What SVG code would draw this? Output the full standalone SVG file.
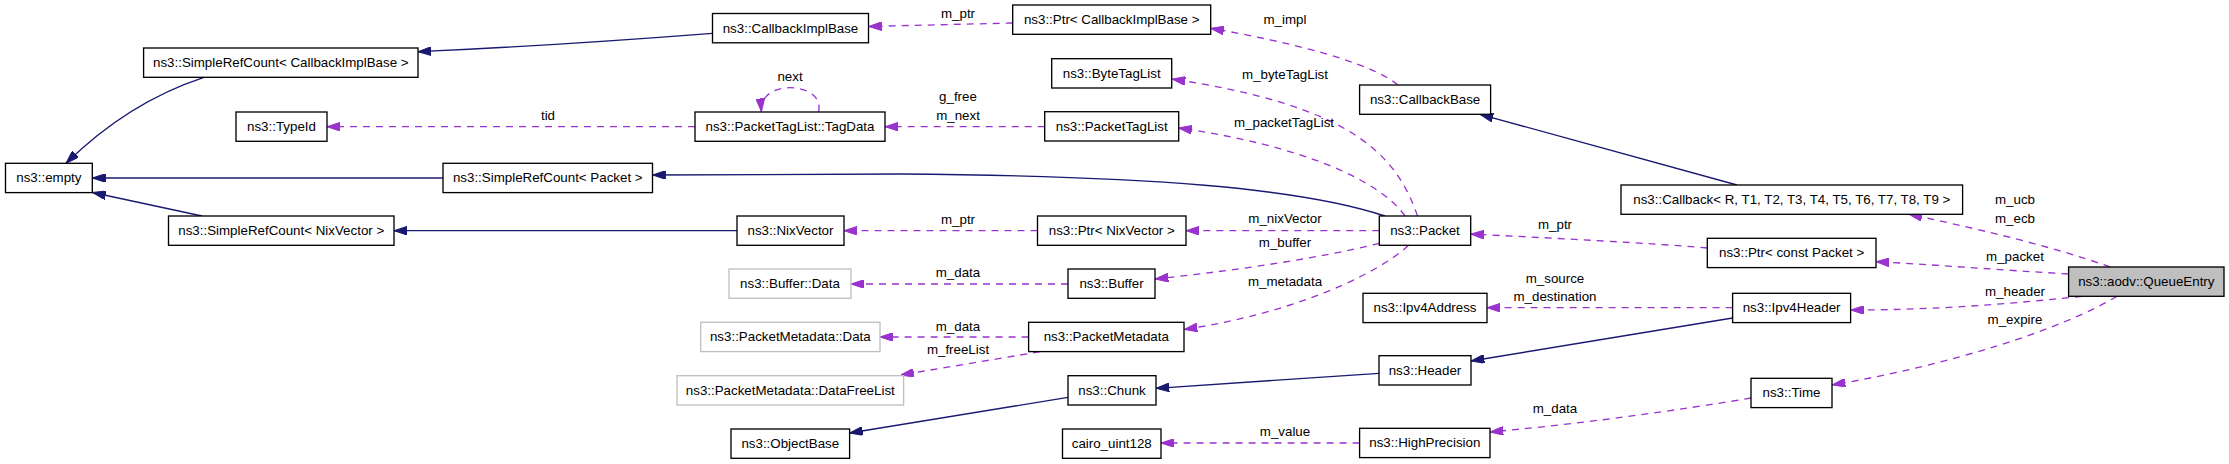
<svg xmlns="http://www.w3.org/2000/svg" width="2229" height="464" viewBox="0 0 2229 464">
<style>
.n rect{fill:#fff;stroke:#000;stroke-width:1.33}
.n.g rect{stroke:#bfbfbf}
.n.q rect{fill:#bfbfbf}
text{font-family:"Liberation Sans",Arial,Helvetica,sans-serif;font-size:13.33px;fill:#000}
.n text{text-anchor:middle}
.lb{text-anchor:middle}
.inh{fill:none;stroke:#191970;stroke-width:1.33;marker-end:url(#an)}
.use{fill:none;stroke:#9a32cd;stroke-width:1.33;stroke-dasharray:7,6;marker-end:url(#ap)}
</style>
<defs>
<marker id="an" markerUnits="userSpaceOnUse" viewBox="0 0 13.3 8.8" refX="13.3" refY="4.4" markerWidth="13.3" markerHeight="8.8" orient="auto">
<path d="M0,0 L13.3,4.4 L0,8.8 z" fill="#191970" stroke="#191970" stroke-width="1" stroke-dasharray="none"/>
</marker>
<marker id="ap" markerUnits="userSpaceOnUse" viewBox="0 0 13.3 8.8" refX="13.3" refY="4.4" markerWidth="13.3" markerHeight="8.8" orient="auto">
<path d="M0,0 L13.3,4.4 L0,8.8 z" fill="#9a32cd" stroke="#9a32cd" stroke-width="1" stroke-dasharray="none"/>
</marker>
</defs>
<rect width="2229" height="464" fill="#fff"/>

<g id="connectors">
<path class="inh" d="M204,77.3 C150,95 105,125 66,163.3"/>
<path class="inh" d="M443,178 L92.3,178"/>
<path class="inh" d="M202,216 L92.5,192.5"/>
<path class="inh" d="M712.5,33.3 C600,42 500,48 418,51.7"/>
<path class="inh" d="M1385,216 C1300,188 1150,176 900,174 L652.5,175"/>
<path class="inh" d="M737,230.7 L394,230.7"/>
<path class="inh" d="M1737,185 L1480,114.3"/>
<path class="inh" d="M1732.6,318 L1471,361"/>
<path class="inh" d="M1379,373.3 L1156,388.3"/>
<path class="inh" d="M1068,397.3 L849.6,433"/>

<path class="use" d="M1012.7,23 L868.5,26.5"/>
<path class="use" d="M1398,85 C1370,62 1290,42 1210.7,28.3"/>
<path class="use" d="M1417.5,216 C1395,150 1345,105 1172,79"/>
<path class="use" d="M1405,216 C1380,180 1300,145 1178.7,128"/>
<path class="use" d="M1044.7,126.7 L885,126.7"/>
<path class="use" d="M818.6,111.7 C822,95 805,87.7 790,87.7 C775,87.7 760,95 761.4,111.7"/>
<path class="use" d="M695,126.7 L327,126.7"/>
<path class="use" d="M1037.5,230.7 L844,230.7"/>
<path class="use" d="M1379.3,230.7 L1186,230.7"/>
<path class="use" d="M1379.3,243.3 C1320,258 1240,270 1155,279"/>
<path class="use" d="M1408.6,245.3 C1380,272 1300,312 1184,329.5"/>
<path class="use" d="M1068,284 L851,284"/>
<path class="use" d="M1028.6,337 L880,337"/>
<path class="use" d="M1040,351.7 L900.7,375"/>
<path class="use" d="M1707.3,248 C1650,243 1550,238 1470.7,234"/>
<path class="use" d="M1732.6,307.7 L1487,307.7"/>
<path class="use" d="M1751,398 C1680,410 1580,424 1490,432"/>
<path class="use" d="M1359.6,443 L1161,443"/>
<path class="use" d="M2110,267 C2050,245 1960,225 1909,214.3"/>
<path class="use" d="M2068.6,274 C2000,270 1940,265 1876,261.7"/>
<path class="use" d="M2082,296.3 C2000,305 1930,310 1850.7,310"/>
<path class="use" d="M2117,296.3 C2060,330 1950,365 1832,385"/>

<text class="lb" x="958" y="18">m_ptr</text>
<text class="lb" x="1285" y="24">m_impl</text>
<text class="lb" x="790" y="81">next</text>
<text class="lb" x="1285" y="79">m_byteTagList</text>
<text class="lb" x="958" y="100.5">g_free</text>
<text class="lb" x="958" y="119.5">m_next</text>
<text class="lb" x="548" y="120">tid</text>
<text class="lb" x="1284" y="127">m_packetTagList</text>
<text class="lb" x="2015" y="204">m_ucb</text>
<text class="lb" x="2015" y="223">m_ecb</text>
<text class="lb" x="958" y="224">m_ptr</text>
<text class="lb" x="1285" y="223">m_nixVector</text>
<text class="lb" x="1555" y="229">m_ptr</text>
<text class="lb" x="1285" y="247">m_buffer</text>
<text class="lb" x="2015" y="261">m_packet</text>
<text class="lb" x="958" y="277">m_data</text>
<text class="lb" x="1555" y="283">m_source</text>
<text class="lb" x="1555" y="301">m_destination</text>
<text class="lb" x="1285" y="286">m_metadata</text>
<text class="lb" x="2015" y="296">m_header</text>
<text class="lb" x="2015" y="324">m_expire</text>
<text class="lb" x="958" y="331">m_data</text>
<text class="lb" x="958" y="354">m_freeList</text>
<text class="lb" x="1555" y="413">m_data</text>
<text class="lb" x="1285" y="436">m_value</text>
</g>

<g id="n_src_cib" class="n"><rect x="143.6" y="48" width="274.4" height="29.3"/><text x="280.8" y="67">ns3::SimpleRefCount&lt; CallbackImplBase &gt;</text></g>
<g id="n_typeid" class="n"><rect x="236" y="112" width="91" height="29.3"/><text x="281.5" y="131">ns3::TypeId</text></g>
<g id="n_empty" class="n"><rect x="5.5" y="163.3" width="86.8" height="29.3"/><text x="48.9" y="182.3">ns3::empty</text></g>
<g id="n_src_packet" class="n"><rect x="443" y="163.3" width="209.5" height="29.3"/><text x="547.75" y="182.3">ns3::SimpleRefCount&lt; Packet &gt;</text></g>
<g id="n_src_nix" class="n"><rect x="168.5" y="216" width="225.5" height="29.3"/><text x="281.25" y="235">ns3::SimpleRefCount&lt; NixVector &gt;</text></g>
<g id="n_cib" class="n"><rect x="712.5" y="13.5" width="156" height="29.3"/><text x="790.5" y="32.5">ns3::CallbackImplBase</text></g>
<g id="n_tagdata" class="n"><rect x="695" y="112" width="190" height="29.3"/><text x="790" y="131">ns3::PacketTagList::TagData</text></g>
<g id="n_nixvector" class="n"><rect x="737" y="216" width="107" height="29.3"/><text x="790.5" y="235">ns3::NixVector</text></g>
<g id="n_ptr_cib" class="n"><rect x="1012.7" y="5" width="198" height="29.3"/><text x="1111.7" y="24">ns3::Ptr&lt; CallbackImplBase &gt;</text></g>
<g id="n_bytetaglist" class="n"><rect x="1051.7" y="58.7" width="120" height="29.3"/><text x="1111.7" y="77.7">ns3::ByteTagList</text></g>
<g id="n_packettaglist" class="n"><rect x="1044.7" y="111.7" width="134" height="29.3"/><text x="1111.7" y="130.7">ns3::PacketTagList</text></g>
<g id="n_ptr_nix" class="n"><rect x="1037.5" y="216" width="148.5" height="29.3"/><text x="1111.75" y="235">ns3::Ptr&lt; NixVector &gt;</text></g>
<g id="n_callbackbase" class="n"><rect x="1359.6" y="85" width="131" height="29.3"/><text x="1425.1" y="104">ns3::CallbackBase</text></g>
<g id="n_packet" class="n"><rect x="1379.3" y="216" width="91.4" height="29.3"/><text x="1425" y="235">ns3::Packet</text></g>
<g id="n_callback" class="n"><rect x="1621" y="185" width="341.6" height="29.3"/><text x="1791.8" y="204">ns3::Callback&lt; R, T1, T2, T3, T4, T5, T6, T7, T8, T9 &gt;</text></g>
<g id="n_ptr_cpacket" class="n"><rect x="1707.3" y="238.3" width="168.7" height="29.3"/><text x="1791.65" y="257.3">ns3::Ptr&lt; const Packet &gt;</text></g>
<g id="n_queueentry" class="n q"><rect x="2068.6" y="267" width="155.4" height="29.3"/><text x="2146.3" y="286">ns3::aodv::QueueEntry</text></g>
<g id="n_ipv4header" class="n"><rect x="1732.6" y="293.3" width="118" height="29.3"/><text x="1791.6" y="312.3">ns3::Ipv4Header</text></g>
<g id="n_ipv4address" class="n"><rect x="1363" y="293.3" width="124" height="29.3"/><text x="1425" y="312.3">ns3::Ipv4Address</text></g>
<g id="n_buffer_data" class="n g"><rect x="729" y="269" width="122" height="29.3"/><text x="790" y="288">ns3::Buffer::Data</text></g>
<g id="n_buffer" class="n"><rect x="1068" y="269" width="87" height="29.3"/><text x="1111.5" y="288">ns3::Buffer</text></g>
<g id="n_pm_data" class="n g"><rect x="700.7" y="322.3" width="179.3" height="29.3"/><text x="790.35" y="341.3">ns3::PacketMetadata::Data</text></g>
<g id="n_packetmetadata" class="n"><rect x="1028.6" y="322.3" width="155.4" height="29.3"/><text x="1106.3" y="341.3">ns3::PacketMetadata</text></g>
<g id="n_datafreelist" class="n g"><rect x="677" y="375.7" width="226.6" height="29.3"/><text x="790.3" y="394.7">ns3::PacketMetadata::DataFreeList</text></g>
<g id="n_chunk" class="n"><rect x="1068" y="375.7" width="88" height="29.3"/><text x="1112" y="394.7">ns3::Chunk</text></g>
<g id="n_header" class="n"><rect x="1379" y="355.7" width="92" height="29.3"/><text x="1425" y="374.7">ns3::Header</text></g>
<g id="n_time" class="n"><rect x="1751" y="378.3" width="81" height="29.3"/><text x="1791.5" y="397.3">ns3::Time</text></g>
<g id="n_objectbase" class="n"><rect x="731" y="429" width="118.6" height="29.3"/><text x="790.3" y="448">ns3::ObjectBase</text></g>
<g id="n_cairo" class="n"><rect x="1062.5" y="429" width="98.5" height="29.3"/><text x="1111.75" y="448">cairo_uint128</text></g>
<g id="n_highprecision" class="n"><rect x="1359.6" y="428.3" width="130.4" height="29.3"/><text x="1424.8" y="447.3">ns3::HighPrecision</text></g>
</svg>
